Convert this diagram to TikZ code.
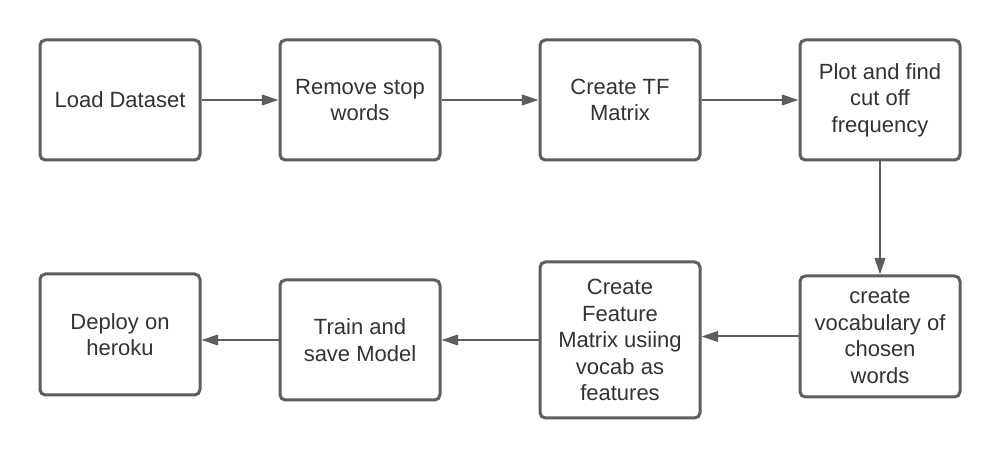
\documentclass[tikz,border=0pt]{standalone}
\usepackage{fontspec}
\setmainfont{Liberation Sans}
\usetikzlibrary{arrows.meta,calc}
\definecolor{linegray}{HTML}{5E5E5E}
\definecolor{textgray}{HTML}{333333}
\tikzset{
  stepbox/.style={draw=linegray, line width=2.25pt, rounded corners=4pt, fill=white,
    minimum width=120pt, minimum height=90pt, inner sep=0pt, align=center,
    text=textgray, font=\fontsize{16.5}{19.9}\selectfont},
  flow/.style={draw=linegray, line width=1.5pt, -{Triangle[length=12.5pt,width=8pt]}}
}
\begin{document}
\begin{tikzpicture}[x=0.75pt,y=-0.75pt]
\useasboundingbox (0,0) rectangle (1000,459);
\node[stepbox] (load) at (120,100) {Load Dataset};
\node[stepbox] (stop) at (360,100) {Remove stop\\words};
\node[stepbox] (tf) at (620,100) {Create TF\\Matrix};
\node[stepbox] (plot) at (880,100) {Plot and find\\cut off\\frequency};
\node[stepbox, minimum height=90.75pt] (vocab) at (880,336.5) {create\\vocabulary of\\chosen\\words};
\node[stepbox, minimum height=117pt] (feat) at (620,340) {Create\\Feature\\Matrix usiing\\vocab as\\features};
\node[stepbox] (train) at (360,340) {Train and\\save Model};
\node[stepbox, minimum height=90.75pt] (deploy) at (120,334.5) {Deploy on\\heroku};
\draw[flow] (load) -- (stop);
\draw[flow] (stop) -- (tf);
\draw[flow] (tf) -- (plot);
\draw[flow] (plot) -- (vocab);
\draw[flow] (vocab.west) -- (feat.east |- vocab.west);
\draw[flow] (feat) -- (train);
\draw[flow] (train.west) -- (deploy.east |- train.west);
\end{tikzpicture}
\end{document}
